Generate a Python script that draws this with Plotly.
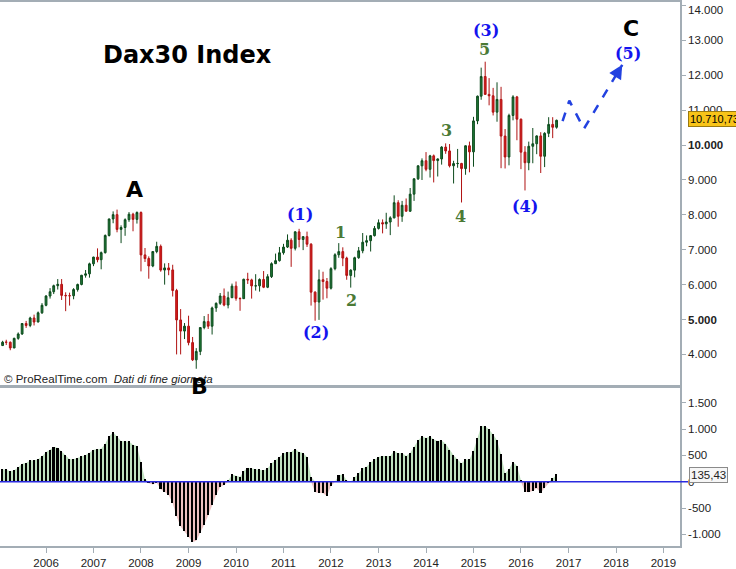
import plotly.graph_objects as go
import pandas as pd

# ---------------- data (monthly, Feb 2005 - Oct 2016) ----------------
months = pd.date_range("2005-02-01", periods=141, freq="MS")

open_ = [
    4254, 4350, 4349, 4185, 4460, 4586, 4886, 4829, 5044, 4929, 5193,
    5408, 5674, 5796, 5970, 6009, 5692, 5683, 5682, 5859, 6005, 6269, 6309,
    6597, 6789, 6715, 6917, 7409, 7883, 8007, 7584, 7638, 7862, 8019, 7871,
    8067, 6852, 6748, 6535, 6949, 7097, 6418, 6480, 6422, 5831, 4988, 4669,
    4810, 4338, 3844, 4085, 4770, 4941, 4809, 5332, 5465, 5675, 5415, 5625,
    5957, 5608, 5598, 6154, 6136, 5964, 5966, 6148, 5925, 6229, 6601, 6688,
    6914, 7077, 7273, 7041, 7514, 7294, 7376, 7159, 5785, 5502, 6141, 6089,
    5898, 6458, 6856, 6947, 6761, 6264, 6416, 6772, 6971, 7216, 7260, 7405,
    7612, 7776, 7742, 7795, 7914, 8349, 7959, 8276, 8104, 8594, 9033, 9406,
    9552, 9306, 9692, 9556, 9603, 9943, 9833, 9407, 9470, 9474, 9327, 9981,
    9806, 10694, 11402, 11966, 11454, 11414, 10945, 11309, 10259, 9660, 10850, 11382,
    10743, 9798, 9495, 9966, 10039, 10263, 9680, 10337, 10593, 10511,
]
high = [
    4390, 4420, 4370, 4480, 4630, 4900, 4960, 5080, 5140, 5230, 5470,
    5700, 5900, 6000, 6160, 6160, 5780, 5770, 5900, 6030, 6280, 6420, 6630,
    6800, 7040, 6950, 7440, 7890, 8100, 8151, 7700, 7900, 8080, 8060, 8100,
    8100, 7050, 6810, 6960, 7230, 7150, 6610, 6620, 6570, 5880, 5300, 4900,
    5110, 4500, 4180, 4780, 5100, 5160, 5370, 5490, 5760, 5890, 5800, 6030,
    6090, 5630, 6170, 6340, 6170, 6300, 6180, 6390, 6300, 6640, 6890, 7080,
    7170, 7440, 7330, 7530, 7600, 7390, 7520, 7190, 5810, 6430, 6370, 6190,
    6500, 6900, 7190, 7070, 6800, 6440, 6800, 7080, 7480, 7410, 7420, 7680,
    7870, 7870, 8060, 7960, 8560, 8420, 8400, 8470, 8770, 9050, 9420, 9620,
    9800, 9720, 9730, 9620, 9970, 10050, 10030, 9550, 9890, 9490, 9990, 10100,
    10810, 11420, 12220, 12391, 11920, 11640, 11800, 11670, 10460, 10900, 11430, 11410,
    10760, 9970, 10100, 10490, 10280, 10370, 10370, 10800, 10800, 10730,
]
low = [
    4240, 4270, 4120, 4180, 4420, 4560, 4760, 4780, 4830, 4920, 5160,
    5380, 5600, 5730, 5860, 5560, 5240, 5400, 5580, 5800, 5980, 6200, 6200,
    6530, 6640, 6440, 6890, 7380, 7760, 7500, 7190, 7400, 7800, 7530, 7750,
    6380, 6650, 6170, 6500, 6900, 6370, 6000, 6270, 5660, 4000, 4000, 4440,
    4260, 3810, 3589, 3980, 4720, 4730, 4570, 5220, 5420, 5380, 5320, 5620,
    5540, 5250, 5590, 6020, 5600, 5830, 5800, 5900, 5900, 6190, 6590, 6660,
    6860, 7050, 6510, 6980, 7070, 6990, 7080, 5400, 4966, 4990, 5570, 5610,
    5860, 6410, 6770, 6530, 6140, 5915, 6210, 6740, 6900, 7100, 6950, 7380,
    7580, 7470, 7600, 7420, 7900, 7660, 7800, 8100, 8090, 8400, 9000, 9000,
    9250, 9070, 8930, 9100, 9440, 9750, 9360, 8900, 9350, 8355, 9150, 9220,
    9380, 10600, 11300, 11450, 11140, 10850, 10670, 9338, 9330, 9420, 10710, 10140,
    9310, 8700, 9280, 9480, 9740, 9200, 9370, 10230, 10200, 10470,
]
close = [
    4350, 4349, 4185, 4460, 4586, 4886, 4829, 5044, 4929, 5193, 5408,
    5674, 5796, 5970, 6009, 5692, 5683, 5682, 5859, 6005, 6269, 6309, 6597,
    6789, 6715, 6917, 7409, 7883, 8007, 7584, 7638, 7862, 8019, 7871, 8067,
    6852, 6748, 6535, 6949, 7097, 6418, 6480, 6422, 5831, 4988, 4669, 4810,
    4338, 3844, 4085, 4770, 4941, 4809, 5332, 5465, 5675, 5415, 5625, 5957,
    5608, 5598, 6154, 6136, 5964, 5966, 6148, 5925, 6229, 6601, 6688, 6914,
    7077, 7273, 7041, 7514, 7294, 7376, 7159, 5785, 5502, 6141, 6089, 5898,
    6458, 6856, 6947, 6761, 6264, 6416, 6772, 6971, 7216, 7260, 7405, 7612,
    7776, 7742, 7795, 7914, 8349, 7959, 8276, 8104, 8594, 9033, 9406, 9552,
    9306, 9692, 9556, 9603, 9943, 9833, 9407, 9470, 9474, 9327, 9981, 9806,
    10694, 11402, 11966, 11454, 11414, 10945, 11309, 10259, 9660, 10850, 11382, 10743,
    9798, 9495, 9966, 10039, 10263, 9680, 10337, 10593, 10511, 10710.73,
]
macd = [
    233, 233, 195, 220, 270, 340, 358, 403, 403, 428, 478,
    566, 610, 660, 648, 579, 503, 428, 428, 453, 490, 503, 553,
    610, 616, 629, 723, 862, 943, 862, 774, 767, 767, 704, 679,
    365, 50, -30, -50, -20, -145, -190, -250, -410, -660, -849, -943,
    -1057, -1145, -1119, -975, -818, -642, -440, -252, -100, -63, 19, 138,
    113, 94, 201, 264, 252, 239, 239, 214, 252, 346, 409, 472,
    535, 566, 566, 629, 566, 547, 472, 94, -200, -208, -220, -270,
    -80, 0, 126, 138, 31, 0, 82, 157, 252, 283, 365, 421,
    472, 491, 491, 491, 585, 535, 547, 491, 547, 660, 786, 862,
    830, 862, 805, 774, 786, 723, 610, 503, 421, 346, 421, 421,
    591, 830, 1057, 1057, 994, 900, 790, 520, 157, 239, 377, 302,
    31, -189, -201, -170, -126, -208, -126, -30, 63, 135.43,
]

# projected path (dashed blue arrow)
proj_dates = ["2016-11-16", "2017-01-07", "2017-04-29", "2018-02-18"]
proj_prices = [10688, 11277, 10468, 12301]

price_ticks = [4000, 5000, 6000, 7000, 8000, 9000, 10000, 11000, 12000, 13000, 14000]
price_ticktext = ["4.000", "<b>5.000</b>", "6.000", "7.000", "8.000", "9.000",
                  "<b>10.000</b>", "11.000", "12.000", "13.000", ""]
macd_ticks = [-1000, -500, 0, 500, 1000, 1500]
macd_ticktext = ["-1.000", "-500", "0", "500", "1.000", "1.500"]
year_ticks = [f"{y}-01-01" for y in range(2006, 2020)]
year_text = [str(y) for y in range(2006, 2020)]

# ---------------- figure ----------------
W, H = 736, 569
ML, MR, MT, MB = 0, 56, 0, 21
PW, PH = W - ML - MR, H - MT - MB


def px(x):
    return (x - ML) / PW


def py(y):
    return (PH - (y - MT)) / PH


fig = go.Figure()

fig.add_trace(go.Candlestick(
    x=months, open=open_, high=high, low=low, close=close,
    increasing=dict(line=dict(color="#0c4a1c", width=1), fillcolor="#1f7a38"),
    decreasing=dict(line=dict(color="#b01212", width=1), fillcolor="#d81c1c"),
    whiskerwidth=0, showlegend=False, xaxis="x", yaxis="y", hoverinfo="skip",
))

pos = [max(v, 0) for v in macd]
neg = [min(v, 0) for v in macd]
fig.add_trace(go.Scatter(x=months, y=pos, mode="lines", fill="tozeroy",
                         fillcolor="#bfe0bf", line=dict(width=0, color="#bfe0bf"),
                         xaxis="x2", yaxis="y2", showlegend=False, hoverinfo="skip"))
fig.add_trace(go.Scatter(x=months, y=neg, mode="lines", fill="tozeroy",
                         fillcolor="#ecc2c2", line=dict(width=0, color="#ecc2c2"),
                         xaxis="x2", yaxis="y2", showlegend=False, hoverinfo="skip"))
# bars on an overlaying axis so they are drawn above the filled areas
fig.add_trace(go.Bar(x=months, y=macd, width=1.05e9, marker=dict(color="black", line=dict(width=0)),
                     xaxis="x2", yaxis="y3", showlegend=False, hoverinfo="skip"))

fig.add_trace(go.Scatter(x=proj_dates, y=proj_prices, mode="lines",
                         line=dict(color="#2342e0", width=2.5, dash="dash"),
                         xaxis="x", yaxis="y", showlegend=False, hoverinfo="skip"))

xrange = ["2005-01-12", "2019-05-08"]
frame = "#a3adb5"
tickfont = dict(family="Liberation Sans, Arial, sans-serif", size=11.5, color="#222")
macd_range = [-1221, 1779]

fig.update_layout(
    width=W, height=H,
    margin=dict(l=ML, r=MR, t=MT, b=MB),
    paper_bgcolor="white", plot_bgcolor="white",
    showlegend=False,
    xaxis=dict(domain=[0, 1], anchor="y", range=xrange, type="date",
               showticklabels=False, ticks="", showgrid=False, zeroline=False,
               showline=True, mirror=True, linecolor=frame, linewidth=1.5,
               rangeslider=dict(visible=False), matches="x2"),
    yaxis=dict(domain=[py(386), 1], anchor="x", side="right", range=[3118, 14102],
               tickvals=price_ticks, ticktext=price_ticktext, ticks="outside",
               ticklen=4, tickcolor=frame, showgrid=False, zeroline=False,
               showline=True, linecolor=frame, linewidth=1.5, tickfont=tickfont),
    xaxis2=dict(domain=[0, 1], anchor="y2", range=xrange, type="date",
                tickvals=year_ticks, ticktext=year_text, ticks="outside",
                ticklen=5, tickcolor=frame, showgrid=False, zeroline=False,
                showline=True, mirror=True, linecolor=frame, linewidth=1.5,
                tickfont=tickfont),
    yaxis2=dict(domain=[0, py(389)], anchor="x2", side="right", range=macd_range,
                tickvals=macd_ticks, ticktext=macd_ticktext, ticks="outside",
                ticklen=4, tickcolor=frame, showgrid=False, zeroline=False,
                showline=True, linecolor=frame, linewidth=1.5, tickfont=tickfont),
    yaxis3=dict(overlaying="y2", anchor="x2", side="right", range=macd_range,
                visible=False, showgrid=False, zeroline=False),
    bargap=0,
)

# zero line of the indicator
fig.add_shape(type="line", xref="paper", yref="y2", x0=0, x1=px(688), y0=0, y1=0,
              line=dict(color="#2a2ae0", width=1.5), layer="above")

ann = []
sans_b = "DejaVu Sans, Verdana, sans-serif"
serif_b = "DejaVu Serif, Georgia, serif"
blue = "#1414ee"
green = "#4b7a36"


def label(text, x, y, size, color, family, xanchor="center"):
    ann.append(dict(text=text, x=px(x), y=py(y), xref="paper", yref="paper",
                    xanchor=xanchor, yanchor="middle", showarrow=False,
                    font=dict(size=size, color=color, family=family)))


label("<b>Dax30 Index</b>", 187, 53, 24, "black", sans_b)
label("<b>A</b>", 134.5, 188.5, 22, "black", sans_b)
label("<b>C</b>", 630.5, 26.5, 22, "black", sans_b)

label("<b>(1)</b>", 300, 214, 16, blue, serif_b)
label("<b>(2)</b>", 316, 333, 16, blue, serif_b)
label("<b>(3)</b>", 486, 28.5, 16, blue, serif_b)
label("<b>(4)</b>", 524.5, 205.5, 16, blue, serif_b)
label("<b>(5)</b>", 627.5, 51.5, 16, blue, serif_b)

label("<b>1</b>", 340.5, 232, 16, green, serif_b)
label("<b>2</b>", 351, 301, 16, green, serif_b)
label("<b>3</b>", 446, 129, 16, green, serif_b)
label("<b>4</b>", 460, 216, 16, green, serif_b)
label("<b>5</b>", 484, 48, 16, green, serif_b)

label("© ProRealTime.com  <i>Dati di fine giornata</i>", 2, 380, 11.5, "#222",
      "Liberation Sans, Arial, sans-serif", xanchor="left")
label("<b>B</b>", 199, 387, 22, "black", sans_b)

# top tick label, nudged down so it is not clipped (as in the original)
ann.append(dict(text="14.000", x=px(686), y=py(8.5), xref="paper", yref="paper",
                xanchor="left", yanchor="middle", showarrow=False,
                font=tickfont))

# arrow head of the projection
ann.append(dict(x=proj_dates[-1], y=proj_prices[-1], xref="x", yref="y",
                ax=-6, ay=10, axref="pixel", ayref="pixel", text="", showarrow=True,
                arrowhead=2, arrowsize=1.1, arrowwidth=2.5, arrowcolor="#2342e0",
                standoff=0))

# last value boxes
ann.append(dict(text="10.710,73", x=px(688), y=py(117.5), xref="paper", yref="paper",
                xanchor="left", yanchor="middle", showarrow=False,
                font=dict(size=11, color="black", family="Liberation Sans, Arial, sans-serif"),
                bgcolor="#f8c419", bordercolor="#9a7a10", borderwidth=1, borderpad=1))
ann.append(dict(text="135,43", x=px(688.5), y=py(476), xref="paper", yref="paper",
                xanchor="left", yanchor="middle", showarrow=False,
                font=dict(size=11.5, color="#222", family="Liberation Sans, Arial, sans-serif"),
                bgcolor="#f6f6f6", bordercolor="#8a8a8a", borderwidth=1, borderpad=1))

fig.update_layout(annotations=ann)

fig.write_html("out.html")
